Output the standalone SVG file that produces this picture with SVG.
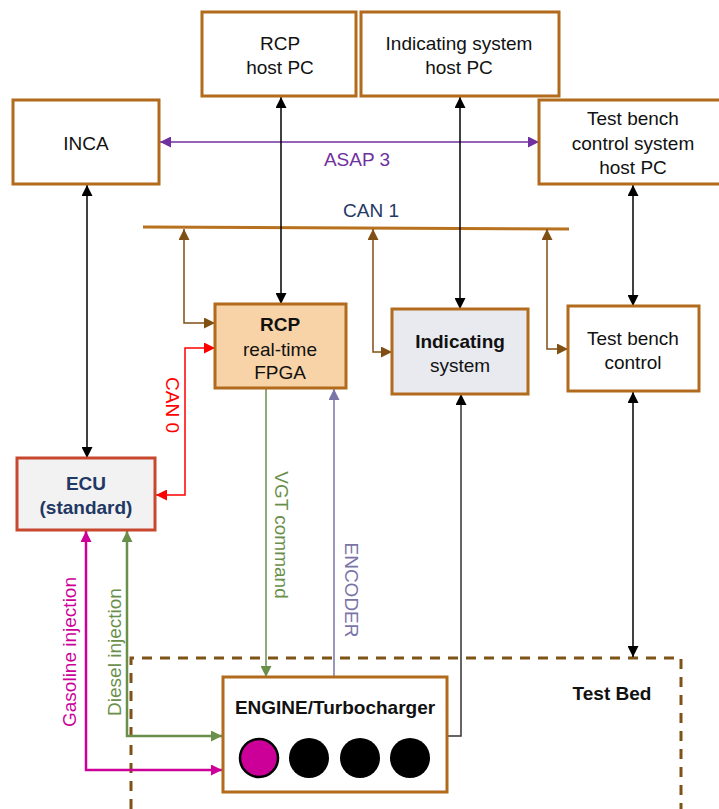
<svg xmlns="http://www.w3.org/2000/svg" width="719" height="809" viewBox="0 0 719 809">
<style>
text{font-family:"Liberation Sans",Arial,sans-serif;font-size:19px;fill:#111;text-anchor:middle}
.b{font-weight:bold}
.box{fill:#fff;stroke:#B26B1D;stroke-width:3}
.c{fill:none;stroke-width:1.5}
</style>
<defs>
<marker id="ak" viewBox="0 0 10 10" refX="10" refY="5" markerWidth="11" markerHeight="11" markerUnits="userSpaceOnUse" orient="auto-start-reverse"><path d="M0,0L10,5L0,10z" fill="#000"/></marker>
<marker id="ab" viewBox="0 0 10 10" refX="10" refY="5" markerWidth="11" markerHeight="11" markerUnits="userSpaceOnUse" orient="auto-start-reverse"><path d="M0,0L10,5L0,10z" fill="#7F4F14"/></marker>
<marker id="ap" viewBox="0 0 10 10" refX="10" refY="5" markerWidth="11" markerHeight="11" markerUnits="userSpaceOnUse" orient="auto-start-reverse"><path d="M0,0L10,5L0,10z" fill="#7030A0"/></marker>
<marker id="ar" viewBox="0 0 10 10" refX="10" refY="5" markerWidth="11" markerHeight="11" markerUnits="userSpaceOnUse" orient="auto-start-reverse"><path d="M0,0L10,5L0,10z" fill="#FF0000"/></marker>
<marker id="ag" viewBox="0 0 10 10" refX="10" refY="5" markerWidth="11" markerHeight="11" markerUnits="userSpaceOnUse" orient="auto-start-reverse"><path d="M0,0L10,5L0,10z" fill="#6A8F4A"/></marker>
<marker id="av" viewBox="0 0 10 10" refX="10" refY="5" markerWidth="11" markerHeight="11" markerUnits="userSpaceOnUse" orient="auto-start-reverse"><path d="M0,0L10,5L0,10z" fill="#7A74A8"/></marker>
<marker id="am" viewBox="0 0 10 10" refX="10" refY="5" markerWidth="11" markerHeight="11" markerUnits="userSpaceOnUse" orient="auto-start-reverse"><path d="M0,0L10,5L0,10z" fill="#CC0099"/></marker>
</defs>

<g id="testbed">
<path d="M131,809V658H681V809" fill="none" stroke="#7F5217" stroke-width="3" stroke-dasharray="10,8"/>
<text class="b" x="612" y="700">Test Bed</text>
</g>

<g id="connectors">
<line x1="143" y1="227" x2="569" y2="229" stroke="#B8711F" stroke-width="3"/>
<text x="371" y="217" style="fill:#1F3864">CAN 1</text>
<path class="c" d="M160,142H539" stroke="#7030A0" marker-start="url(#ap)" marker-end="url(#ap)"/>
<text x="357" y="166" style="fill:#7030A0">ASAP 3</text>
<path class="c" d="M87,185V458" stroke="#000" marker-start="url(#ak)" marker-end="url(#ak)"/>
<path class="c" d="M281,97V304" stroke="#000" marker-start="url(#ak)" marker-end="url(#ak)"/>
<path class="c" d="M460,97V309" stroke="#000" marker-start="url(#ak)" marker-end="url(#ak)"/>
<path class="c" d="M633,185V306" stroke="#000" marker-start="url(#ak)" marker-end="url(#ak)"/>
<path class="c" d="M184,229V323H215" stroke="#7F4F14" marker-start="url(#ab)" marker-end="url(#ab)"/>
<path class="c" d="M373,229V352H392" stroke="#7F4F14" marker-start="url(#ab)" marker-end="url(#ab)"/>
<path class="c" d="M547,229V349H568" stroke="#7F4F14" marker-start="url(#ab)" marker-end="url(#ab)"/>
<path class="c" d="M215,348H185V495H156" stroke="#FF0000" marker-start="url(#ar)" marker-end="url(#ar)"/>
<text transform="translate(166,405) rotate(90)" style="fill:#FF0000">CAN 0</text>
<path class="c" d="M266,389V677" stroke="#6A8F4A" marker-end="url(#ag)"/>
<text transform="translate(275,535) rotate(90)" style="fill:#6A8F4A">VGT command</text>
<path class="c" d="M334,677V389" stroke="#7A74A8" marker-end="url(#av)"/>
<text transform="translate(345,590) rotate(90)" style="fill:#7A74A8">ENCODER</text>
<path class="c" d="M447,736H461V394" stroke="#333" marker-end="url(#ak)"/>
<path class="c" d="M633,392V657" stroke="#000" marker-start="url(#ak)" marker-end="url(#ak)"/>
<path d="M86,531V770H222" fill="none" stroke="#CC0099" stroke-width="2.5" marker-start="url(#am)" marker-end="url(#am)"/>
<text transform="translate(76,652) rotate(-90)" style="fill:#CC0099">Gasoline injection</text>
<path d="M127,531V736H222" fill="none" stroke="#6A8F4A" stroke-width="2.5" marker-start="url(#ag)" marker-end="url(#ag)"/>
<text transform="translate(121,652) rotate(-90)" style="fill:#6A8F4A">Diesel injection</text>
</g>

<g id="rcp-host"><rect class="box" x="202" y="12" width="154" height="84"/><text x="280" y="50">RCP</text><text x="280" y="74">host PC</text></g>
<g id="ind-host"><rect class="box" x="361" y="12" width="198" height="84"/><text x="459" y="50">Indicating system</text><text x="459" y="74">host PC</text></g>
<g id="inca"><rect class="box" x="13" y="100" width="146" height="84"/><text x="86" y="150">INCA</text></g>
<g id="tb-host"><rect class="box" x="539" y="100" width="190" height="84"/><text x="633" y="125">Test bench</text><text x="633" y="150">control system</text><text x="633" y="174">host PC</text></g>
<g id="rcp"><rect class="box" x="215" y="304" width="131" height="84" style="fill:#F8D3A7"/><text class="b" x="280" y="331">RCP</text><text x="280" y="356">real-time</text><text x="280" y="379">FPGA</text></g>
<g id="indicating"><rect class="box" x="392" y="309" width="136" height="85" style="fill:#E9E9F0"/><text class="b" x="460" y="348">Indicating</text><text x="460" y="372">system</text></g>
<g id="tb-control"><rect class="box" x="568" y="306" width="131" height="85"/><text x="633" y="345">Test bench</text><text x="633" y="369">control</text></g>
<g id="ecu"><rect x="17" y="458" width="138" height="72" fill="#F2F2F2" stroke="#C8472E" stroke-width="3"/><text class="b" x="86" y="490" style="fill:#1F3864">ECU</text><text class="b" x="86" y="514" style="fill:#1F3864">(standard)</text></g>
<g id="engine"><rect class="box" x="223" y="677" width="224" height="115"/><text class="b" x="335" y="714">ENGINE/Turbocharger</text>
<circle cx="259" cy="758" r="19" fill="#CC0099" stroke="#000" stroke-width="2.5"/>
<circle cx="309" cy="758" r="20" fill="#000"/>
<circle cx="360" cy="758" r="20" fill="#000"/>
<circle cx="410" cy="758" r="20" fill="#000"/>
</g>
</svg>
